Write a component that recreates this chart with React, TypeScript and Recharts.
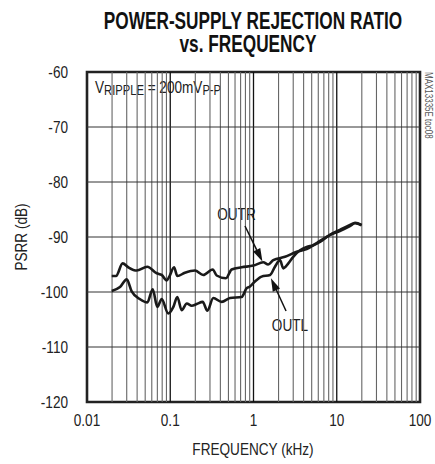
import React from 'react';
import { LineChart, Line, XAxis, YAxis, ReferenceLine, ReferenceArea, Label } from 'recharts';

// OUTR (upper trace at low frequency)
const outrFreq = [0.0198, 0.0223, 0.0268, 0.0313, 0.0395, 0.053, 0.0688, 0.0789, 0.0906, 0.0974, 0.111, 0.1216, 0.15, 0.198, 0.249, 0.324, 0.361, 0.467, 0.547, 0.721, 0.995, 1.31, 1.5, 1.73, 2.39, 3.3, 4.35, 5.74, 8.3, 10.9, 14.4, 16.6, 19.9];
const outrDb = [-97.1, -97.1, -94.8, -95.5, -96.1, -95.4, -96.6, -96.9, -97.9, -97.2, -95.5, -97.1, -96.5, -96.1, -96.9, -95.9, -97.0, -97.5, -95.9, -95.5, -95.2, -94.6, -95.0, -94.2, -93.6, -92.7, -92.2, -91.1, -89.6, -88.7, -87.8, -87.4, -87.8];

// OUTL (lower trace at low frequency)
const outlFreq = [0.0198, 0.0249, 0.03, 0.0344, 0.0433, 0.053, 0.0615, 0.0699, 0.0789, 0.0947, 0.109, 0.1216, 0.137, 0.158, 0.181, 0.208, 0.245, 0.279, 0.329, 0.415, 0.522, 0.721, 0.828, 0.908, 1.04, 1.25, 1.58, 1.81, 2.08, 2.28, 2.62, 3.0, 3.62, 4.35, 5.23, 6.29, 8.3, 10.9, 14.4, 16.6, 19.9];
const outlDb = [-99.8, -99.1, -97.7, -99.9, -101.3, -101.9, -99.5, -102.7, -101.3, -103.9, -102.7, -100.9, -103.3, -102.1, -102.5, -102.2, -101.8, -103.4, -101.1, -101.8, -101.1, -100.9, -99.3, -99.0, -98.1, -97.2, -96.9, -95.4, -94.2, -95.7, -94.8, -93.6, -92.4, -91.8, -91.5, -90.9, -89.6, -88.9, -88.0, -87.5, -87.9];

const xTicks = [0.01, 0.1, 1, 10, 100];
const yTicks = [-120, -110, -100, -90, -80, -70, -60];
const decades = [0.01, 0.1, 1, 10];
const majorX = [0.1, 1, 10];

const outr = outrFreq.map((f, i) => ({ f, db: outrDb[i] }));
const outl = outlFreq.map((f, i) => ({ f, db: outlDb[i] }));
const minorX: number[] = [];
decades.forEach(d => {
  for (let m = 2; m <= 9; m++) minorX.push(+(d * m).toPrecision(3));
});

const FONT = "'Liberation Sans', Arial, sans-serif";
const SX = 0.8; // condensed look

// text squeezed horizontally around its anchor
const Narrow = ({ x, y, size = 17, anchor = 'start', bold = false, fill = '#222', sx = SX, rotate = 0, children }: any) => (
  <g transform={`translate(${x},${y}) rotate(${rotate}) scale(${sx},1)`}>
    <text x={0} y={0} textAnchor={anchor} fontFamily={FONT} fontSize={size} fontWeight={bold ? 'bold' : 'normal'} fill={fill}>
      {children}
    </text>
  </g>
);

const XTick = (props: any) => {
  const { x, y, payload } = props;
  return <Narrow x={x} y={y + 24} anchor="middle">{String(payload.value)}</Narrow>;
};

const YTick = (props: any) => {
  const { x, y, payload } = props;
  return <Narrow x={x} y={y + 6} anchor="end">{String(payload.value)}</Narrow>;
};

const Arrow = (props: any) => {
  const { x1, y1, x2, y2 } = props;
  const dx = x2 - x1;
  const dy = y2 - y1;
  const len = Math.sqrt(dx * dx + dy * dy);
  const ux = dx / len;
  const uy = dy / len;
  const hl = 13;
  const hw = 4;
  const bx = x2 - ux * hl;
  const by = y2 - uy * hl;
  return (
    <g>
      <line x1={x1} y1={y1} x2={bx} y2={by} stroke="#111" strokeWidth={1.5} />
      <polygon
        points={`${x2},${y2} ${bx - uy * hw},${by + ux * hw} ${bx + uy * hw},${by - ux * hw}`}
        fill="#111"
      />
    </g>
  );
};

const RippleLabel = (props: any) => {
  const { x, y } = props.viewBox;
  return (
    <g transform={`translate(${x + 8},${y + 21}) scale(${SX},1)`}>
      <text x={0} y={0} fontFamily={FONT} fontSize={17} fill="#222">
        V
        <tspan fontSize={14} dy={2}>RIPPLE</tspan>
        <tspan fontSize={17} dy={-2}> = 200mV</tspan>
        <tspan fontSize={14} dy={2}>P-P</tspan>
      </text>
    </g>
  );
};

const BoxText = (text: string) => (props: any) => {
  const { x, y, width, height } = props.viewBox;
  return <Narrow x={x + width / 2} y={y + height / 2 + 6} anchor="middle">{text}</Narrow>;
};

export default function App() {
  return (
    <div style={{ position: 'absolute', left: 0, top: 0, width: 435, height: 464, background: '#fff' }}>
      <LineChart width={435} height={464} margin={{ top: 72, right: 15, bottom: 22, left: 0 }}>
        <XAxis
          type="number"
          dataKey="f"
          scale="log"
          domain={[0.01, 100]}
          ticks={xTicks}
          allowDataOverflow
          axisLine={false}
          tickLine={false}
          tickSize={0}
          tickMargin={0}
          height={40}
          tick={<XTick />}
        />
        <YAxis
          type="number"
          domain={[-120, -60]}
          ticks={yTicks}
          allowDataOverflow
          axisLine={false}
          tickLine={false}
          tickSize={0}
          tickMargin={19}
          width={87}
          tick={<YTick />}
        />
        {minorX.map(v => (
          <ReferenceLine key={'m' + v} x={v} stroke="#666" strokeWidth={1.1} />
        ))}
        {majorX.map(v => (
          <ReferenceLine key={'M' + v} x={v} stroke="#111" strokeWidth={1.3} />
        ))}
        {yTicks.slice(1, -1).map(v => (
          <ReferenceLine key={'h' + v} y={v} stroke="#333" strokeWidth={1} />
        ))}
        <ReferenceArea x1={0.01} x2={0.552} y1={-65.45} y2={-60} fill="#fff" fillOpacity={1} stroke="none">
          <Label content={RippleLabel} />
        </ReferenceArea>
        <ReferenceArea x1={0.345} x2={1.13} y1={-88.4} y2={-83.3} fill="#fff" fillOpacity={1} stroke="none">
          <Label content={BoxText('OUTR')} />
        </ReferenceArea>
        <ReferenceArea x1={1.49} x2={5.04} y1={-108.4} y2={-103.6} fill="#fff" fillOpacity={1} stroke="none">
          <Label content={BoxText('OUTL')} />
        </ReferenceArea>
        <ReferenceLine segment={[{ x: 0.79, y: -88.0 }, { x: 1.28, y: -94.45 }]} shape={Arrow} />
        <ReferenceLine segment={[{ x: 2.46, y: -103.45 }, { x: 1.62, y: -97.5 }]} shape={Arrow} />
        <Line data={outl} dataKey="db" type="monotone" stroke="#1a1a1a" strokeWidth={2.6} dot={false} isAnimationActive={false} />
        <Line data={outr} dataKey="db" type="monotone" stroke="#1a1a1a" strokeWidth={2.6} dot={false} isAnimationActive={false} />
        <ReferenceArea x1={0.01} x2={100} y1={-120} y2={-60} fill="none" stroke="#222" strokeWidth={2.6} />
      </LineChart>
      <svg width={435} height={464} style={{ position: 'absolute', left: 0, top: 0, pointerEvents: 'none' }}>
        <Narrow x={253} y={29} size={23} anchor="middle" bold fill="#111" sx={0.75}>
          POWER-SUPPLY REJECTION RATIO
        </Narrow>
        <Narrow x={248} y={52} size={23} anchor="middle" bold fill="#111" sx={0.75}>
          vs. FREQUENCY
        </Narrow>
        <Narrow x={253} y={455} anchor="middle">FREQUENCY (kHz)</Narrow>
        <Narrow x={27} y={237} anchor="middle" rotate={-90}>PSRR (dB)</Narrow>
        <Narrow x={425} y={72} size={10} fill="#555" rotate={90}>MAX13335E toc08</Narrow>
      </svg>
    </div>
  );
}
